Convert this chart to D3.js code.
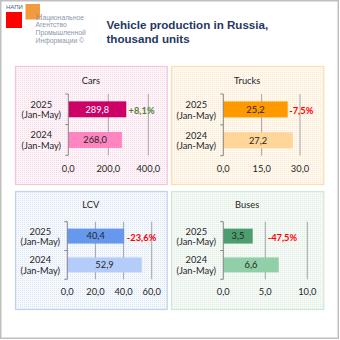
<!DOCTYPE html>
<html>
<head>
<meta charset="utf-8">
<script src="https://cdn.jsdelivr.net/npm/d3@7"></script>
<style>
body { margin: 0; background: #fff; }
text { font-family: Lato, "Liberation Sans", sans-serif; }
</style>
</head>
<body>
<div id="chart"></div>
<script>
var vehicleTypes = ["Cars", "Trucks", "LCV", "Buses"];
var periods = ["2025", "2024"];
var periodNote = "(Jan-May)";
var values2025 = [289.8, 25.2, 40.4, 3.5];
var values2024 = [268.0, 27.2, 52.9, 6.6];
var changeLabels = ["+8,1%", "-7,5%", "-23,6%", "-47,5%"];
var axisTicks = [[0, 200, 400], [0, 15, 30], [0, 20, 40, 60], [0, 5, 10]];

var colors2025 = ["#cc0066", "#ff9900", "#6699ee", "#4d9e6e"];
var colors2024 = ["#ff85c0", "#ffd699", "#b4ccfa", "#90cfa8"];
var changeColors = ["#548235", "#ff0000", "#ff0000", "#ff0000"];

// panel boxes and plot areas, px
var panels = [
    {x: 15, y: 66, w: 151.7, h: 118, x0: 68.3, x1: 148.3, top: 94, bottom: 155.3, titleY: 81, tickY: 168.3, dx: 2.3,
     border: "#f7c3da", base: "#fdf5f9", dot: "#f5dce8", valueText: ["#ffffff", "#262626"]},
    {x: 171, y: 66, w: 152.3, h: 118, x0: 223.3, x1: 300, top: 94, bottom: 155.7, titleY: 81, tickY: 168.3, dx: 1.5,
     border: "#fbdfae", base: "#fff9f0", dot: "#f7e9d2", valueText: ["#262626", "#262626"]},
    {x: 15, y: 191, w: 151.7, h: 118, x0: 67.3, x1: 151.7, top: 221.7, bottom: 279.3, titleY: 205, tickY: 291.7, dx: 2.7,
     border: "#bdd3f2", base: "#f5f8fc", dot: "#dfe7f3", valueText: ["#262626", "#262626"]},
    {x: 171, y: 191, w: 152.3, h: 118, x0: 223.3, x1: 307.3, top: 221.7, bottom: 279.3, titleY: 205, tickY: 291.7, dx: 15,
     border: "#d3e7d8", base: "#f6faf7", dot: "#e1eee4", valueText: ["#262626", "#262626"]}
];

var fmt = d3.formatLocale({decimal: ",", thousands: " ", grouping: [3], currency: ["", ""]}).format(".1f");

var svg = d3.select("#chart")
    .append("svg")
    .attr("width", 340)
    .attr("height", 340);

var defs = svg.append("defs");

svg.append("rect")
    .attr("x", 0.75).attr("y", 0.75)
    .attr("width", 337.5).attr("height", 337.5)
    .attr("fill", "#fff")
    .attr("stroke", "#bfbfbf")
    .attr("stroke-width", 1.5);

// logo
svg.append("text")
    .attr("x", 6).attr("y", 9)
    .attr("font-size", 6)
    .attr("fill", "#4a6285")
    .style("font-family", "'Liberation Sans', sans-serif")
    .text("НАПИ");
svg.append("rect")
    .attr("x", 6).attr("y", 12).attr("width", 16).attr("height", 16)
    .attr("fill", "#ff0000");
svg.append("rect")
    .attr("x", 25.5).attr("y", 4).attr("width", 14.5).attr("height", 15.5)
    .attr("fill", "#f29b3c");

var logoLines = ["ациональное", "Агентство", "Промышленной", "Информации ©"];
var logo = svg.append("text")
    .attr("font-size", 6.8)
    .attr("fill", "#8b97aa")
    .style("font-family", "'Liberation Sans', sans-serif");
logo.append("tspan").attr("x", 35.5).attr("y", 19.5).attr("font-size", 9.5).text("Н");
logo.append("tspan").text(logoLines[0]);
logoLines.slice(1).forEach(function (t, i) {
    logo.append("tspan").attr("x", 35.5).attr("y", 27.3 + i * 7.8).text(t);
});

// title
var title = svg.append("text")
    .attr("font-size", 11.6)
    .attr("font-weight", "bold")
    .attr("fill", "#1f3864")
    .style("font-family", "'Liberation Sans', Arial, sans-serif");
title.append("tspan").attr("x", 106.5).attr("y", 28.5).text("Vehicle production in Russia,");
title.append("tspan").attr("x", 106.5).attr("y", 42.8).text("thousand units");

vehicleTypes.forEach(function (name, i) {
    var p = panels[i];

    var pat = defs.append("pattern")
        .attr("id", "dots" + i)
        .attr("patternUnits", "userSpaceOnUse")
        .attr("width", 2).attr("height", 2);
    pat.append("rect").attr("width", 2).attr("height", 2).attr("fill", p.base);
    pat.append("rect").attr("width", 1).attr("height", 1).attr("fill", p.dot);

    svg.append("rect")
        .attr("x", p.x + 0.5).attr("y", p.y + 0.5)
        .attr("width", p.w).attr("height", p.h)
        .attr("fill", "url(#dots" + i + ")")
        .attr("stroke", p.border)
        .attr("stroke-width", 1.2);

    svg.append("text")
        .attr("x", p.x + p.w / 2)
        .attr("y", p.titleY)
        .attr("dy", "0.35em")
        .attr("text-anchor", "middle")
        .attr("font-size", 9.3)
        .attr("fill", "#262626")
        .text(name);

    var ticks = axisTicks[i];
    var xScale = d3.scaleLinear()
        .domain([0, ticks[ticks.length - 1]])
        .range([p.x0, p.x1]);

    var yBand = d3.scaleBand()
        .domain(periods)
        .range([p.top, p.bottom]);

    var yBar = d3.scaleBand()
        .domain(periods)
        .range([p.top, p.bottom])
        .paddingInner(0.48)
        .paddingOuter(0.24);

    // gridlines
    svg.append("g")
        .selectAll("line")
        .data(ticks.slice(1))
        .enter()
        .append("line")
        .attr("x1", d => xScale(d)).attr("x2", d => xScale(d))
        .attr("y1", p.top).attr("y2", p.bottom)
        .attr("stroke", "#a6a6a6")
        .attr("stroke-width", 1);

    var rows = [
        {period: periods[0], value: values2025[i], color: colors2025[i], text: p.valueText[0]},
        {period: periods[1], value: values2024[i], color: colors2024[i], text: p.valueText[1]}
    ];

    svg.append("g")
        .selectAll("rect")
        .data(rows)
        .enter()
        .append("rect")
        .attr("x", xScale(0))
        .attr("y", d => yBar(d.period))
        .attr("width", d => xScale(d.value) - xScale(0))
        .attr("height", yBar.bandwidth())
        .attr("fill", d => d.color);

    svg.append("g")
        .selectAll("text")
        .data(rows)
        .enter()
        .append("text")
        .attr("x", d => (xScale(0) + xScale(d.value)) / 2)
        .attr("y", d => yBar(d.period) + yBar.bandwidth() / 2)
        .attr("dy", "0.35em")
        .attr("text-anchor", "middle")
        .attr("font-size", 9.3)
        .attr("fill", d => d.text)
        .text(d => fmt(d.value));

    // y axis with category ticks
    var axis = svg.append("g")
        .attr("stroke", "#868686")
        .attr("stroke-width", 1);
    axis.append("line")
        .attr("x1", p.x0).attr("x2", p.x0)
        .attr("y1", p.top).attr("y2", p.bottom);
    axis.selectAll(".tk")
        .data([p.top, yBand(periods[1]), p.bottom])
        .enter()
        .append("line")
        .attr("x1", p.x0 - 3).attr("x2", p.x0)
        .attr("y1", d => d).attr("y2", d => d);

    var cat = svg.append("g")
        .selectAll("text")
        .data(periods)
        .enter()
        .append("text")
        .attr("text-anchor", "middle")
        .attr("font-size", 9.3)
        .attr("fill", "#262626");
    cat.append("tspan")
        .attr("x", p.x0 - 27)
        .attr("y", d => yBand(d) + yBand.bandwidth() / 2 - 4.8)
        .attr("dy", "0.35em")
        .text(d => d);
    cat.append("tspan")
        .attr("x", p.x0 - 27)
        .attr("y", d => yBand(d) + yBand.bandwidth() / 2 + 5.9)
        .attr("dy", "0.35em")
        .text(periodNote);

    svg.append("g")
        .selectAll("text")
        .data(ticks)
        .enter()
        .append("text")
        .attr("x", d => xScale(d))
        .attr("y", p.tickY)
        .attr("dy", "0.35em")
        .attr("text-anchor", "middle")
        .attr("font-size", 9.3)
        .attr("fill", "#262626")
        .text(d => fmt(d));

    svg.append("text")
        .attr("x", xScale(values2025[i]) + p.dx)
        .attr("y", yBar(periods[0]) + yBar.bandwidth() / 2 + 1.5)
        .attr("dy", "0.35em")
        .attr("font-size", 9.3)
        .attr("font-weight", "bold")
        .attr("fill", changeColors[i])
        .text(changeLabels[i]);
});
</script>
</body>
</html>
